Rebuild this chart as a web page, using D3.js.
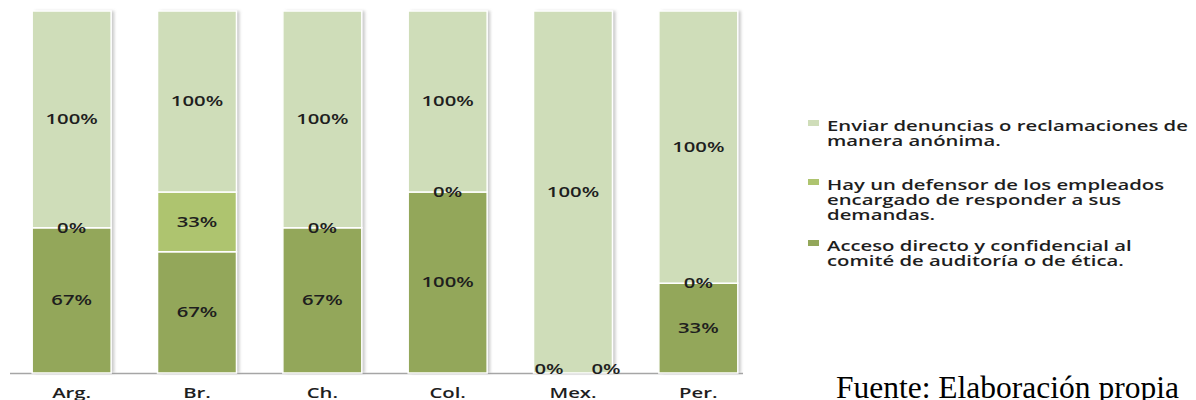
<!DOCTYPE html>
<html>
<head>
<meta charset="utf-8">
<script src="https://cdn.jsdelivr.net/npm/d3@7"></script>
<style>
  body { margin: 0; background: #fff; }
  svg { display: block; }
</style>
</head>
<body>
<div id="chart"></div>
<script>
// data
var categories = ["Arg.", "Br.", "Ch.", "Col.", "Mex.", "Per."];
var acceso = [67, 67, 67, 100, 0, 33];
var defensor = [0, 33, 0, 0, 0, 0];
var enviar = [100, 100, 100, 100, 100, 100];
var seriesKeys = ["acceso", "defensor", "enviar"];
var legendLabels = [
  ["Enviar denuncias o reclamaciones de", "manera anónima."],
  ["Hay un defensor de los empleados", "encargado de responder a sus", "demandas."],
  ["Acceso directo y confidencial al", "comité de auditoría o de ética."]
];

var width = 1196, height = 400;
var sx = 1.45; // reference text is stretched horizontally

var rows = categories.map(function (c, i) {
  return { cat: c, acceso: acceso[i], defensor: defensor[i], enviar: enviar[i] };
});

var svg = d3.select("#chart").append("svg")
  .attr("width", width)
  .attr("height", height);

var defs = svg.append("defs");
var f = defs.append("filter").attr("id", "shadow")
  .attr("x", "-10%").attr("y", "-5%").attr("width", "130%").attr("height", "110%");
f.append("feDropShadow")
  .attr("dx", 3).attr("dy", 0).attr("stdDeviation", 1.5)
  .attr("flood-color", "#888").attr("flood-opacity", 0.45);

var x = d3.scaleBand().domain(categories).range([9, 761]).paddingInner(0.37).paddingOuter(0.185);
var y = d3.scaleLinear().domain([0, 1]).range([373, 11]);

var color = d3.scaleOrdinal().domain(seriesKeys).range(["#93a75a", "#aec46f", "#cfddb9"]);

var stack = d3.stack().keys(seriesKeys).offset(d3.stackOffsetExpand);
var stacked = stack(rows);

// axis line
svg.append("line")
  .attr("x1", 10).attr("x2", 743)
  .attr("y1", y(0) + 0.5).attr("y2", y(0) + 0.5)
  .attr("stroke", "#a6a6a6").attr("stroke-width", 1.5);

// bars (background rect carries the shadow)
var barG = svg.append("g");
barG.selectAll("rect.bg")
  .data(categories)
  .enter()
  .append("rect")
  .attr("class", "bg")
  .attr("x", function (d) { return x(d); })
  .attr("y", y(1))
  .attr("width", x.bandwidth())
  .attr("height", y(0) - y(1))
  .attr("fill", "#cfddb9")
  .attr("filter", "url(#shadow)");

var layer = barG.selectAll("g.layer")
  .data(stacked)
  .enter()
  .append("g")
  .attr("class", "layer")
  .attr("fill", function (d) { return color(d.key); });

layer.selectAll("rect")
  .data(function (d) { return d; })
  .enter()
  .append("rect")
  .attr("x", function (d) { return x(d.data.cat); })
  .attr("y", function (d) { return y(d[1]); })
  .attr("width", x.bandwidth())
  .attr("height", function (d) { return Math.max(0, y(d[0]) - y(d[1])); })
  .attr("stroke", function (d) { return d[1] - d[0] > 0 ? "#fff" : "none"; })
  .attr("stroke-width", 1.5);

// value labels
var labelFont = "'Open Sans', 'DejaVu Sans', sans-serif";
var labels = [];
stacked.forEach(function (s, si) {
  s.forEach(function (d) {
    var cx = x(d.data.cat) + x.bandwidth() / 2;
    var cy = y((d[0] + d[1]) / 2);
    if (d[1] === 0) {
      // zero values sitting on the axis get pushed apart
      cx += si === 0 ? -24 : 33;
      cy -= 4;
    }
    labels.push({ x: cx, y: cy, text: d.data[s.key] + "%" });
  });
});

svg.append("g").selectAll("text")
  .data(labels)
  .enter()
  .append("text")
  .attr("transform", function (d) { return "translate(" + d.x + "," + d.y + ") scale(" + sx + ",1)"; })
  .attr("text-anchor", "middle")
  .attr("dy", "0.35em")
  .style("font-family", labelFont)
  .style("font-size", "14px")
  .style("font-weight", 600)
  .style("fill", "#1e1e1e")
  .text(function (d) { return d.text; });

// category labels
svg.append("g").selectAll("text")
  .data(categories)
  .enter()
  .append("text")
  .attr("transform", function (d) {
    return "translate(" + (x(d) + x.bandwidth() / 2) + ",398) scale(" + sx + ",1)";
  })
  .attr("text-anchor", "middle")
  .style("font-family", labelFont)
  .style("font-size", "14px")
  .style("font-weight", 600)
  .style("fill", "#1e1e1e")
  .text(function (d) { return d; });

// legend
var legendTop = [131, 190, 251];
var legendKeys = ["enviar", "defensor", "acceso"];
var legend = svg.append("g");
legendLabels.forEach(function (lines, i) {
  legend.append("rect")
    .attr("x", 808).attr("y", legendTop[i] - 11)
    .attr("width", 11).attr("height", 6)
    .attr("fill", color(legendKeys[i]));
  var t = legend.append("text")
    .attr("transform", "translate(827," + legendTop[i] + ") scale(" + sx + ",1)")
    .style("font-family", labelFont)
    .style("font-size", "14px")
    .style("font-weight", 600)
    .style("fill", "#1e1e1e");
  lines.forEach(function (ln, j) {
    t.append("tspan").attr("x", 0).attr("dy", j === 0 ? 0 : 15).text(ln);
  });
});

// source note
svg.append("text")
  .attr("x", 836).attr("y", 398)
  .style("font-family", "'Liberation Serif', 'Times New Roman', serif")
  .style("font-size", "31.5px")
  .style("fill", "#000")
  .text("Fuente: Elaboración propia");
</script>
</body>
</html>
